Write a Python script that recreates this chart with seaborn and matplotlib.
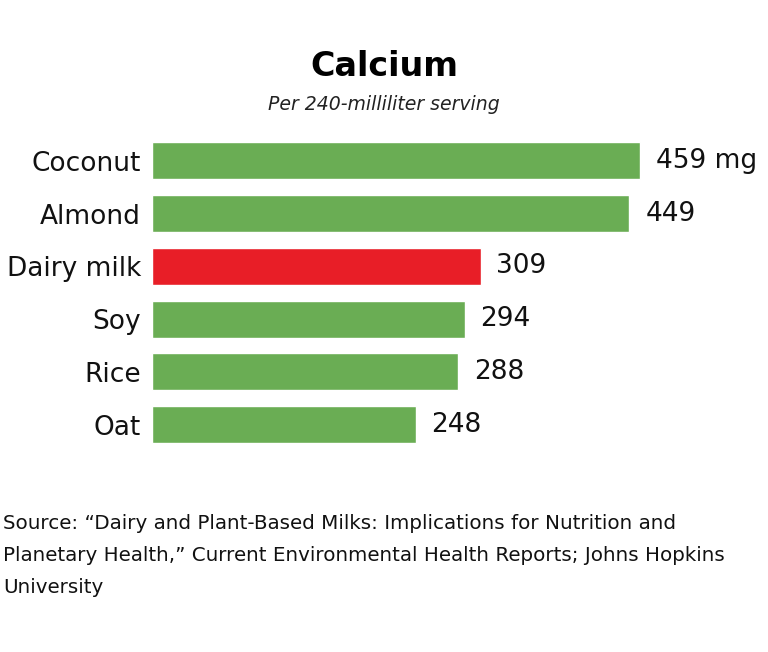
import matplotlib
matplotlib.use("Agg")
import matplotlib.pyplot as plt
import seaborn as sns
import pandas as pd

categories = ["Coconut", "Almond", "Dairy milk", "Soy", "Rice", "Oat"]
values = [459, 449, 309, 294, 288, 248]
value_labels = ["459 mg", "449", "309", "294", "288", "248"]
highlight = "Dairy milk"

title = "Calcium"
subtitle = "Per 240-milliliter serving"
source = ("Source: \u201cDairy and Plant-Based Milks: Implications for Nutrition and\n"
          "Planetary Health,\u201d Current Environmental Health Reports; Johns Hopkins\n"
          "University")

GREEN = "#6AAD54"
RED = "#E81E27"

sns.set_theme(style="white")
plt.rcParams["font.family"] = ["DejaVu Sans"]

df = pd.DataFrame({"milk": categories, "calcium": values})
palette = {c: (RED if c == highlight else GREEN) for c in categories}

fig = plt.figure(figsize=(7.68, 6.52), dpi=100)
ax = fig.add_axes([152 / 768, 0.3084, 616 / 768, 0.4852])
sns.barplot(data=df, y="milk", x="calcium", hue="milk", palette=palette,
            order=categories, width=0.7, legend=False, ax=ax, saturation=1)
ax.set_xlim(0, 616 / 1.0632)
ax.set_ylim(5.5, -0.5)
for s in ax.spines.values():
    s.set_visible(False)
ax.set_xticks([])
ax.set_xlabel("")
ax.set_ylabel("")
ax.tick_params(axis="y", length=0, pad=8, labelsize=19, labelcolor="#111111")

for i, (v, lab) in enumerate(zip(values, value_labels)):
    ax.text(v + 15, i, lab, va="center", ha="left", fontsize=19, color="#111111")

fig.text(0.5, 1 - 67 / 652, title, ha="center", va="center",
         fontsize=24, fontweight="bold", color="#000000")
fig.text(0.5, 1 - 105 / 652, subtitle, ha="center", va="center",
         fontsize=13.6, style="italic", color="#222222")
fig.text(3 / 768, 1 - 514 / 652, source, ha="left", va="top",
         fontsize=14.3, color="#111111", linespacing=1.86)

fig.savefig("out.png", dpi=100)
